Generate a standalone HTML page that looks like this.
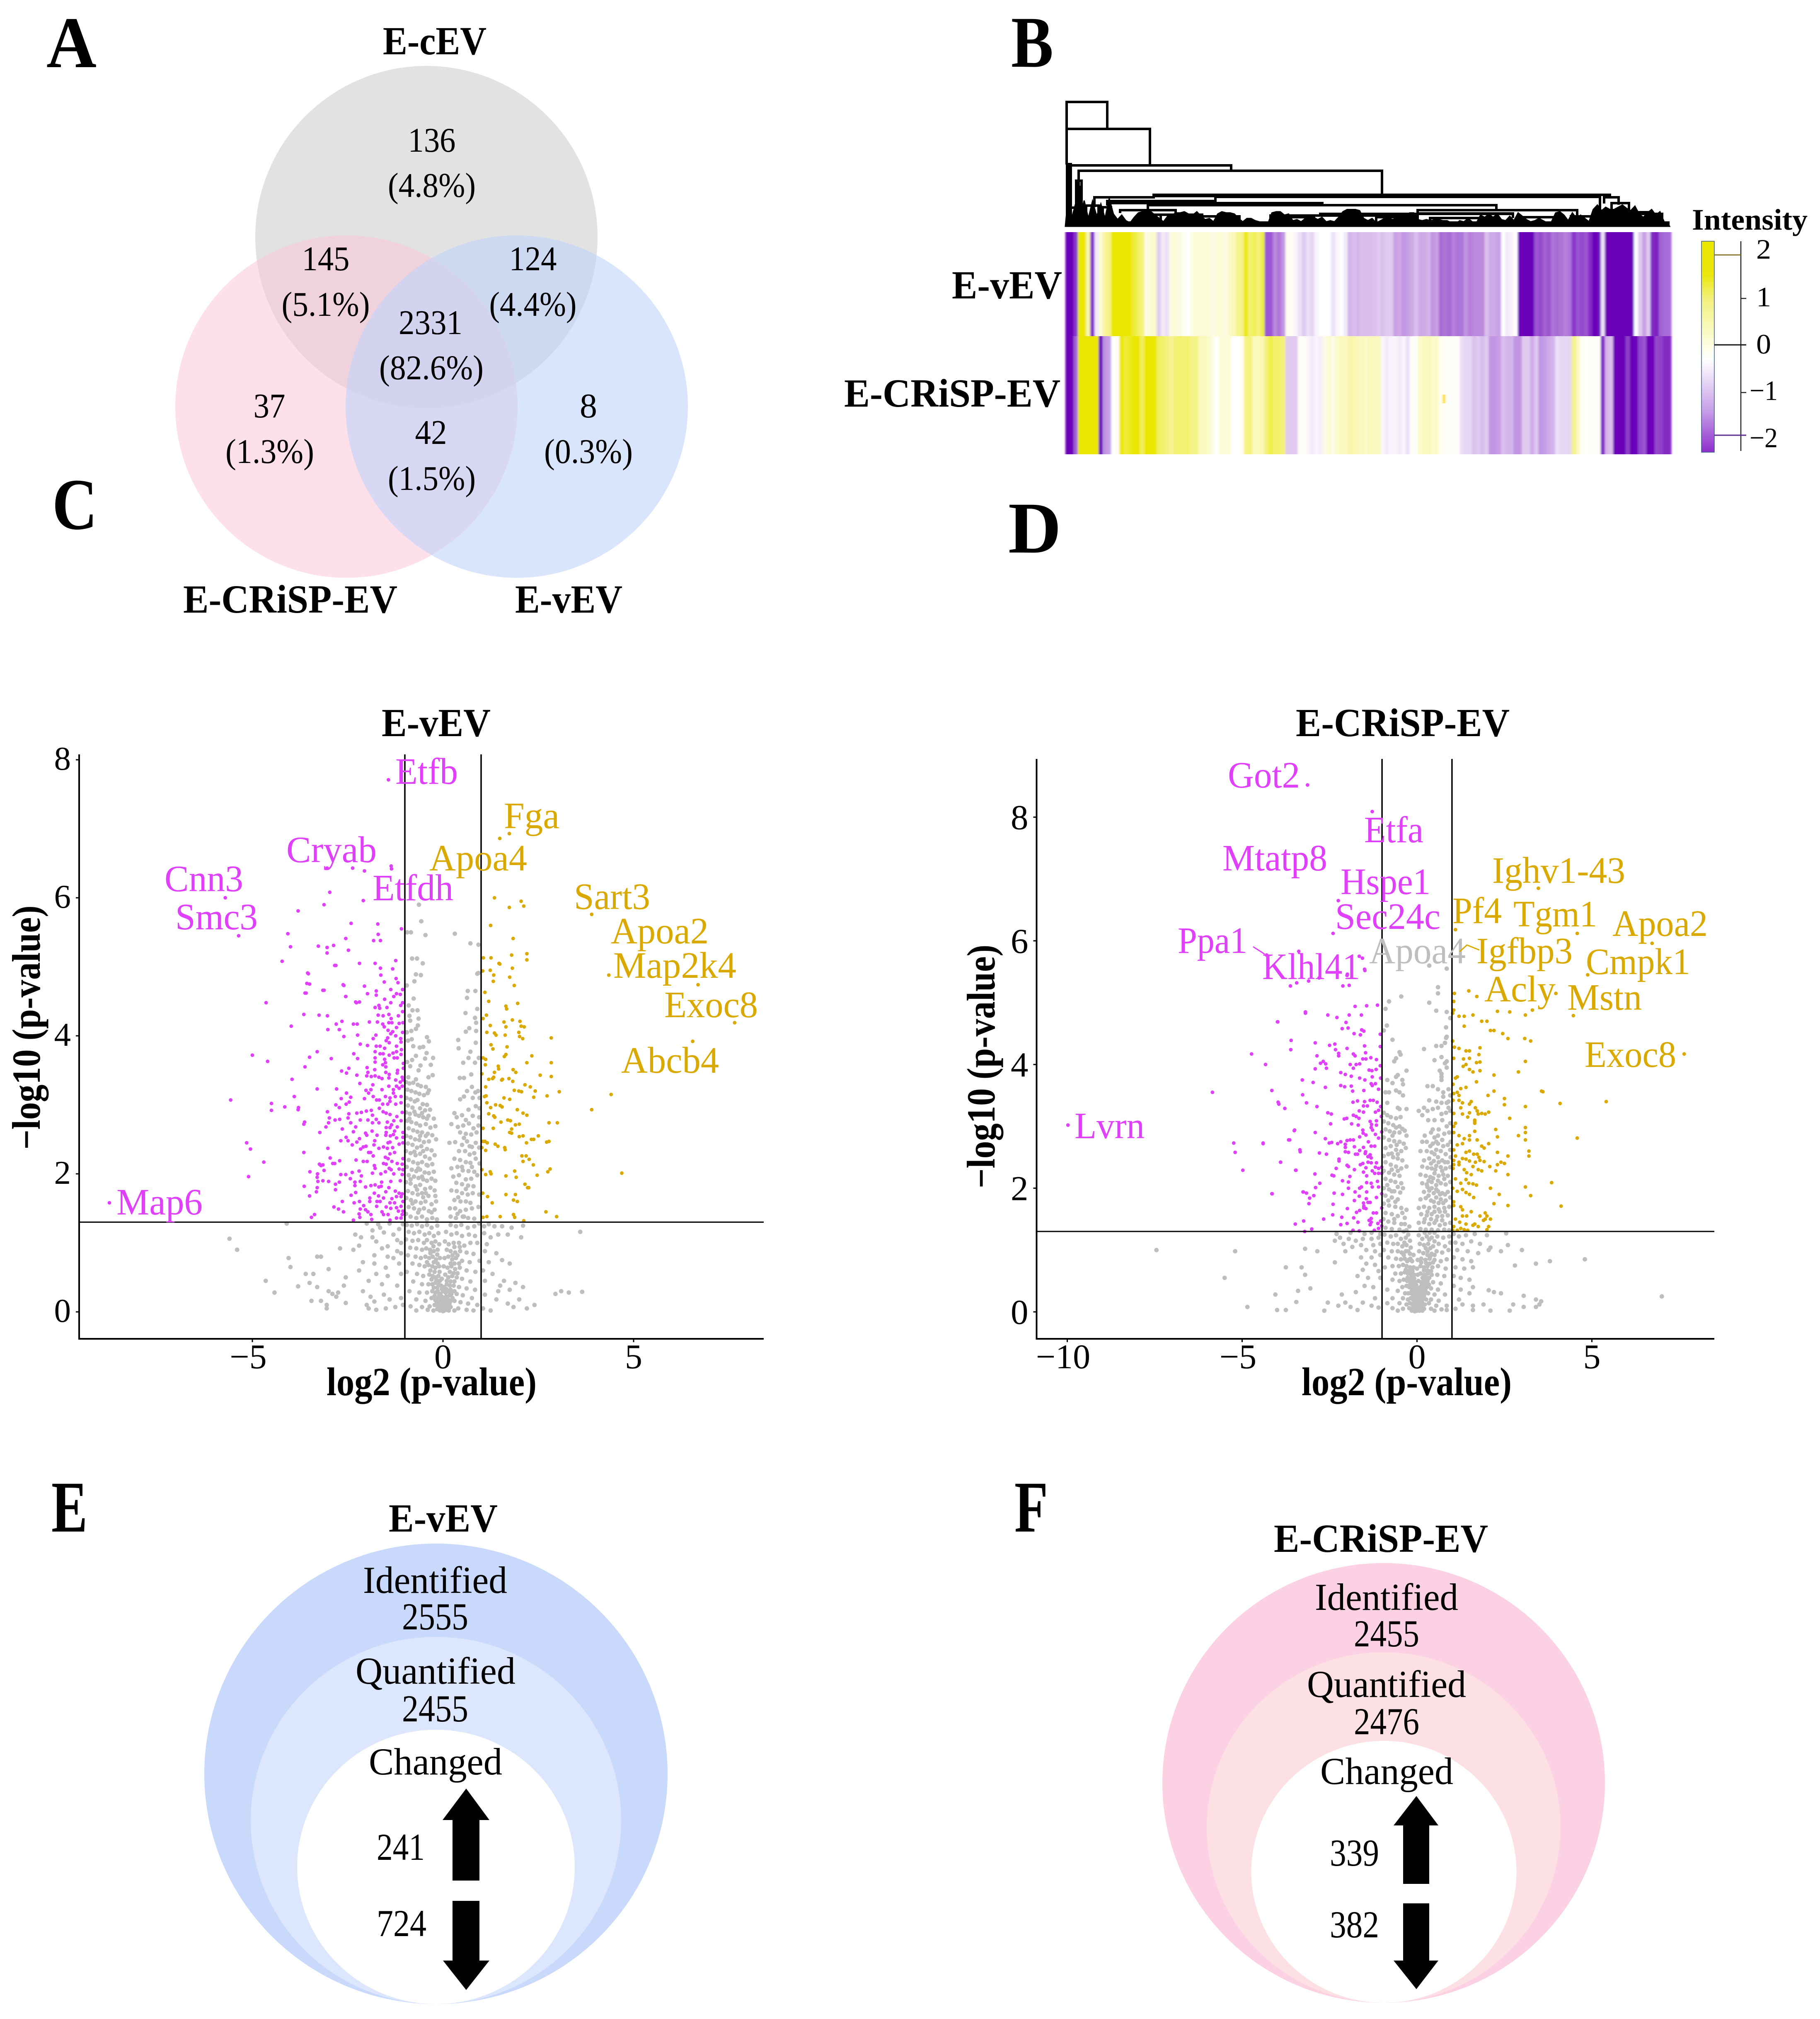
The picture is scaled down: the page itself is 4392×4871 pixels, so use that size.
<!DOCTYPE html>
<html lang="en">
<head>
<meta charset="utf-8">
<title>E-vEV and E-CRiSP-EV proteomics figure</title>
<style>
html,body{margin:0;padding:0;background:#fff;}
svg{display:block;font-family:"Liberation Serif",serif;}
.b{font-weight:bold;}
</style>
</head>
<body>
<svg id="fig" xmlns="http://www.w3.org/2000/svg" width="4392" height="4871" viewBox="0 0 4392 4871">
<defs>
<linearGradient id="cbar" x1="0" y1="0" x2="0" y2="1">
<stop offset="0" stop-color="#ebe600"/><stop offset=".16" stop-color="#ebe60c"/><stop offset=".27" stop-color="#f2f07a"/><stop offset=".49" stop-color="#fdfde0"/><stop offset=".56" stop-color="#ffffff"/><stop offset=".8" stop-color="#c8a0e8"/><stop offset="1" stop-color="#8e2fcc"/>
</linearGradient>
<filter id="soft" x="-2%" y="-2%" width="104%" height="104%"><feGaussianBlur stdDeviation="2.5 0"/></filter>
</defs>
<rect width="4392" height="4871" fill="#fff"/>

<!-- panel letters -->
<g class="b" font-size="176" fill="#000">
<text x="112" y="162" textLength="121" lengthAdjust="spacingAndGlyphs">A</text>
<text x="2440" y="161" textLength="102" lengthAdjust="spacingAndGlyphs">B</text>
<text x="126" y="1276" textLength="109" lengthAdjust="spacingAndGlyphs">C</text>
<text x="2433" y="1333" textLength="128" lengthAdjust="spacingAndGlyphs">D</text>
<text x="124" y="3695" textLength="87" lengthAdjust="spacingAndGlyphs">E</text>
<text x="2448" y="3695" textLength="81" lengthAdjust="spacingAndGlyphs">F</text>
</g>

<!-- Venn -->
<g>
<circle cx="1029" cy="572" r="413" fill="#e2e2e2"/>
<circle cx="836" cy="981" r="413" fill="#fbc1d5" fill-opacity=".5"/>
<circle cx="1247" cy="981" r="413" fill="#c0d2fc" fill-opacity=".6"/>
<g class="b" font-size="96">
<text x="924" y="131" textLength="250" lengthAdjust="spacingAndGlyphs">E-cEV</text>
<text x="442" y="1478" textLength="517" lengthAdjust="spacingAndGlyphs">E-CRiSP-EV</text>
<text x="1243" y="1478" textLength="259" lengthAdjust="spacingAndGlyphs">E-vEV</text>
</g>
<g font-size="84" text-anchor="middle">
<text x="1042" y="366" textLength="115" lengthAdjust="spacingAndGlyphs">136</text>
<text x="1042" y="475" textLength="212" lengthAdjust="spacingAndGlyphs">(4.8%)</text>
<text x="786" y="652" textLength="115" lengthAdjust="spacingAndGlyphs">145</text>
<text x="786" y="762" textLength="213" lengthAdjust="spacingAndGlyphs">(5.1%)</text>
<text x="1286" y="652" textLength="115" lengthAdjust="spacingAndGlyphs">124</text>
<text x="1286" y="762" textLength="211" lengthAdjust="spacingAndGlyphs">(4.4%)</text>
<text x="1039" y="806" textLength="154" lengthAdjust="spacingAndGlyphs">2331</text>
<text x="1041" y="915" textLength="252" lengthAdjust="spacingAndGlyphs">(82.6%)</text>
<text x="650" y="1007" textLength="77" lengthAdjust="spacingAndGlyphs">37</text>
<text x="651" y="1117" textLength="214" lengthAdjust="spacingAndGlyphs">(1.3%)</text>
<text x="1040" y="1071" textLength="77" lengthAdjust="spacingAndGlyphs">42</text>
<text x="1042" y="1182" textLength="212" lengthAdjust="spacingAndGlyphs">(1.5%)</text>
<text x="1420" y="1007">8</text>
<text x="1420" y="1117" textLength="214" lengthAdjust="spacingAndGlyphs">(0.3%)</text>
</g>
</g>

<!-- Heatmap -->
<g id="dendro"></g>
<g id="heat" filter="url(#soft)"></g>
<g class="b" font-size="96">
<text x="2297" y="720" textLength="266" lengthAdjust="spacingAndGlyphs">E-vEV</text>
<text x="2037" y="981" textLength="522" lengthAdjust="spacingAndGlyphs">E-CRiSP-EV</text>
</g>
<g>
<text class="b" x="4083" y="554" font-size="72" textLength="279" lengthAdjust="spacingAndGlyphs">Intensity</text>
<rect x="4106" y="582" width="31" height="509" fill="url(#cbar)" stroke="#3a5a8a" stroke-width="1.5"/>
<line x1="4201" y1="582" x2="4201" y2="1088" stroke="#222" stroke-width="2.5"/>
<line x1="4137" y1="615" x2="4201" y2="615" stroke="#8a7a30" stroke-width="3"/>
<line x1="4201" y1="720" x2="4214" y2="720" stroke="#222" stroke-width="2.5"/>
<line x1="4137" y1="832" x2="4214" y2="832" stroke="#111" stroke-width="3"/>
<line x1="4201" y1="947" x2="4214" y2="947" stroke="#222" stroke-width="2.5"/>
<line x1="4137" y1="1050" x2="4214" y2="1050" stroke="#5a2a90" stroke-width="3"/>
<g font-size="68">
<text x="4238" y="624" textLength="36" lengthAdjust="spacingAndGlyphs">2</text>
<text x="4238" y="739" textLength="36" lengthAdjust="spacingAndGlyphs">1</text>
<text x="4238" y="853" textLength="36" lengthAdjust="spacingAndGlyphs">0</text>
<text x="4222" y="965" textLength="68" lengthAdjust="spacingAndGlyphs">−1</text>
<text x="4222" y="1079" textLength="68" lengthAdjust="spacingAndGlyphs">−2</text>
</g>
</g>

<!-- Volcano plots -->
<g id="volcC"></g>
<g id="volcD"></g>

<g class="b" font-size="96">
<text x="921" y="1776" textLength="263" lengthAdjust="spacingAndGlyphs">E-vEV</text>
<text x="3127" y="1776" textLength="516" lengthAdjust="spacingAndGlyphs">E-CRiSP-EV</text>
<text x="788" y="3366" textLength="507" lengthAdjust="spacingAndGlyphs">log2 (p-value)</text>
<text x="3141" y="3366" textLength="507" lengthAdjust="spacingAndGlyphs">log2 (p-value)</text>
<text transform="rotate(-90 96 2479)" x="96" y="2479" text-anchor="middle" textLength="589" lengthAdjust="spacingAndGlyphs">−log10 (p-value)</text>
<text transform="rotate(-90 2400 2573)" x="2400" y="2573" text-anchor="middle" textLength="588" lengthAdjust="spacingAndGlyphs">−log10 (p-value)</text>
</g>

<!-- gene labels C -->
<g font-size="90" fill="#e040fb">
<text x="954" y="1891" textLength="151" lengthAdjust="spacingAndGlyphs">Etfb</text>
<text x="691" y="2080" textLength="218" lengthAdjust="spacingAndGlyphs">Cryab</text>
<text x="397" y="2150" textLength="190" lengthAdjust="spacingAndGlyphs">Cnn3</text>
<text x="899" y="2172" textLength="195" lengthAdjust="spacingAndGlyphs">Etfdh</text>
<text x="423" y="2242" textLength="199" lengthAdjust="spacingAndGlyphs">Smc3</text>
<text x="281" y="2930" textLength="208" lengthAdjust="spacingAndGlyphs">Map6</text>
</g>
<g font-size="90" fill="#daa900">
<text x="1216" y="1998" textLength="134" lengthAdjust="spacingAndGlyphs">Fga</text>
<text x="1036" y="2100" textLength="236" lengthAdjust="spacingAndGlyphs">Apoa4</text>
<text x="1385" y="2193" textLength="184" lengthAdjust="spacingAndGlyphs">Sart3</text>
<text x="1474" y="2276" textLength="236" lengthAdjust="spacingAndGlyphs">Apoa2</text>
<text x="1480" y="2359" textLength="297" lengthAdjust="spacingAndGlyphs">Map2k4</text>
<text x="1603" y="2454" textLength="226" lengthAdjust="spacingAndGlyphs">Exoc8</text>
<text x="1499" y="2588" textLength="236" lengthAdjust="spacingAndGlyphs">Abcb4</text>
</g>
<!-- gene labels D -->
<g font-size="90" fill="#e040fb">
<text x="2963" y="1900" textLength="174" lengthAdjust="spacingAndGlyphs">Got2</text>
<text x="3292" y="2032" textLength="143" lengthAdjust="spacingAndGlyphs">Etfa</text>
<text x="2950" y="2100" textLength="253" lengthAdjust="spacingAndGlyphs">Mtatp8</text>
<text x="3235" y="2157" textLength="217" lengthAdjust="spacingAndGlyphs">Hspe1</text>
<text x="3222" y="2241" textLength="254" lengthAdjust="spacingAndGlyphs">Sec24c</text>
<text x="2842" y="2299" textLength="168" lengthAdjust="spacingAndGlyphs">Ppa1</text>
<text x="3046" y="2362" textLength="236" lengthAdjust="spacingAndGlyphs">Klhl41</text>
<text x="2593" y="2746" textLength="169" lengthAdjust="spacingAndGlyphs">Lvrn</text>
</g>
<line x1="3024" y1="2284" x2="3052" y2="2302" stroke="#e040fb" stroke-width="3"/>
<text x="3304" y="2324" font-size="90" fill="#bebebe" textLength="233" lengthAdjust="spacingAndGlyphs">Apoa4</text>
<polyline points="3570,2292 3540,2280 3522,2296" fill="none" stroke="#daa900" stroke-width="3"/>
<g font-size="90" fill="#daa900">
<text x="3601" y="2130" textLength="321" lengthAdjust="spacingAndGlyphs">Ighv1-43</text>
<text x="3505" y="2227" textLength="119" lengthAdjust="spacingAndGlyphs">Pf4</text>
<text x="3652" y="2235" textLength="202" lengthAdjust="spacingAndGlyphs">Tgm1</text>
<text x="3891" y="2258" textLength="230" lengthAdjust="spacingAndGlyphs">Apoa2</text>
<text x="3563" y="2324" textLength="232" lengthAdjust="spacingAndGlyphs">Igfbp3</text>
<text x="3827" y="2350" textLength="252" lengthAdjust="spacingAndGlyphs">Cmpk1</text>
<text x="3582" y="2416" textLength="172" lengthAdjust="spacingAndGlyphs">Acly</text>
<text x="3782" y="2436" textLength="180" lengthAdjust="spacingAndGlyphs">Mstn</text>
<text x="3824" y="2574" textLength="221" lengthAdjust="spacingAndGlyphs">Exoc8</text>
</g>

<!-- Panel E -->
<g>
<text class="b" x="938" y="3695" font-size="96" textLength="263" lengthAdjust="spacingAndGlyphs">E-vEV</text>
<ellipse cx="1052" cy="4279.5" rx="559" ry="555.5" fill="#c8d9fc"/>
<ellipse cx="1052" cy="4392" rx="447" ry="443" fill="#dce6fd"/>
<ellipse cx="1052" cy="4504" rx="335" ry="331" fill="#fff"/>
<g font-size="92">
<text x="876" y="3843" textLength="348" lengthAdjust="spacingAndGlyphs">Identified</text>
<text x="970" y="3931" textLength="160" lengthAdjust="spacingAndGlyphs">2555</text>
<text x="858" y="4062" textLength="386" lengthAdjust="spacingAndGlyphs">Quantified</text>
<text x="970" y="4153" textLength="160" lengthAdjust="spacingAndGlyphs">2455</text>
<text x="890" y="4281" textLength="322" lengthAdjust="spacingAndGlyphs">Changed</text>
<text x="909" y="4487" textLength="116" lengthAdjust="spacingAndGlyphs">241</text>
<text x="909" y="4671" textLength="120" lengthAdjust="spacingAndGlyphs">724</text>
</g>
<polygon points="1125,4315 1181,4391 1157,4391 1157,4537 1092,4537 1092,4391 1068,4391" fill="#000"/>
<polygon points="1092,4586 1157,4586 1157,4730 1181,4730 1125,4801 1069,4730 1092,4730" fill="#000"/>
</g>

<!-- Panel F -->
<g>
<text class="b" x="3074" y="3744" font-size="96" textLength="517" lengthAdjust="spacingAndGlyphs">E-CRiSP-EV</text>
<ellipse cx="3339" cy="4301.5" rx="534" ry="530.5" fill="#fcd1e3"/>
<ellipse cx="3339" cy="4409" rx="427" ry="423" fill="#fde0e4"/>
<ellipse cx="3339.5" cy="4516" rx="320" ry="316" fill="#fff"/>
<g font-size="92">
<text x="3173" y="3884" textLength="346" lengthAdjust="spacingAndGlyphs">Identified</text>
<text x="3267" y="3972" textLength="158" lengthAdjust="spacingAndGlyphs">2455</text>
<text x="3154" y="4094" textLength="384" lengthAdjust="spacingAndGlyphs">Quantified</text>
<text x="3267" y="4184" textLength="158" lengthAdjust="spacingAndGlyphs">2476</text>
<text x="3186" y="4304" textLength="321" lengthAdjust="spacingAndGlyphs">Changed</text>
<text x="3209" y="4501" textLength="119" lengthAdjust="spacingAndGlyphs">339</text>
<text x="3209" y="4674" textLength="119" lengthAdjust="spacingAndGlyphs">382</text>
</g>
<polygon points="3418,4333 3471,4404 3449,4404 3449,4545 3386,4545 3386,4404 3363,4404" fill="#000"/>
<polygon points="3386,4592 3449,4592 3449,4730 3471,4730 3418,4799 3363,4730 3386,4730" fill="#000"/>
</g>
</svg>

<script>
// ---------- heatmap data ----------
const heatVev=[-2.4,-2.4,-1.9,2,2,.6,-2,-.2,.3,.7,.9,2,2,2,2,2,1.5,1.2,1,.2,.3,.4,-.5,-.2,-.3,.2,.3,.2,.1,0,.2,.3,.3,.3,.3,.2,.3,.3,.2,.4,.5,.8,.9,1.8,1.1,1.2,1,1.4,-1.6,-1.6,-1.1,-1.3,-1,.1,.1,-.1,-.3,-.5,-.3,-.4,-.1,0,0,0,-.3,-.1,0,-.2,-.7,-.6,-.7,-.6,-.6,
-.6,-.6,-.5,-.6,-.5,-.5,-.9,-.8,-1,-.9,-.8,-.6,-.8,-.8,-.7,-1,-.9,-1.4,-1.3,-1.4,-1.2,-1.3,-1.3,-1,-1.2,-1.1,-1.1,-1.1,-.6,-.8,-.8,-.9,0,-.2,-.1,0,-2.4,-2.4,-2.4,-2.4,-1.6,-1.7,-1.5,-1.6,-1.3,-1.4,-1.3,-1.2,-1.3,-1.9,-1.6,-1.7,-1.6,-2,-2.4,-2.3,-.3,-2.4,-2.4,-2.4,-2.4,-2.4,-2.4,-2.4,0,-.5,-.9,-.5,-2,-2.1,-1.5,-1.4,-1.4];
const heatCrisp=[-2.4,-2.4,-1.5,2,2,2,2,1.9,-2.4,-1,-.9,0,.05,1.8,1.5,1.7,1.9,1.9,1.2,2,2,2,1.2,1.1,1,.8,1,1.1,1,1.1,.9,.9,.5,.5,.4,.2,0,.3,.3,.3,0,0,.1,.9,1,.5,.5,.6,1,1.4,1.1,1.1,1,-.5,-.5,-.5,.05,.05,-.1,-.2,-.1,-.15,.2,.3,.2,.4,.5,.5,.6,.6,.5,.5,.4,
.5,.5,.5,-.1,-.2,-.1,-.1,-.2,-.1,-.3,.05,.05,.4,.5,.5,.4,.4,.1,.05,.05,.05,.05,-.3,-.4,-.4,-.6,-.5,-.6,-.5,-1,-1,-.9,-.6,-.7,-.7,-1,-1,-.5,-.5,-.8,-.5,-1,-.9,-.8,-.7,-.3,-.4,-.4,-.4,.9,.5,.05,0,.05,.05,.05,-2,-.7,-.6,-2.4,-2.4,-2.4,-1.8,-2.4,-2.4,-1.7,-1.6,-2.4,-2.4,-1.7,-1.8,-2,-2];
// ---------- dendrogram data: [leftLeaf, rightLeaf, height, leftChildHeight, rightChildHeight] ----------
const dendroMerges=[[.3,10.1,300,236,236],[.3,20.4,235,149,149],[.8,40,147,0,134],[3.2,76.4,134,0,76],[21.3,131.4,76,71,70],[21.3,36.2,73,71,71],[7,21.3,70,46,76],[36.2,129,71,61,10],[10.1,36.2,61,50,71],[10.1,36.2,58,50,58],[10.1,62,56,50,51],[19.9,104,51,39,39],[13.2,26.6,39,32,30],[85,123.5,39,30,26],[85,108,31,28,26],[61.5,108,30,26,20],[61.5,85,28,26,26],[61.5,76,26,24,24],[49.5,85,26,12,14],[75,85,22,10,8],[19,33,28,14,14],[33,42,24,10,8],[130,133.5,70,55,52],[131.8,136,56,34,36],[131,141,34,20,24],[122,127,24,10,12],[136,144,30,16,8],[1,3,45,0,0],[5,8,50,0,0],[9,11,46,0,0],[23,30,28,12,16],[52,60,22,10,12],[88,100,20,8,10],[110,118,22,8,10],[.4,1.3,150,0,0],[2.6,3.9,110,0,0],[2.8,3.6,95,0,0],[.5,1.1,110,0,0]];
const dendroMass=[40,14,42,16,46,14,45,18,40,14,50,22,12,20,10,6,16,24,26,28,26,20,14,8,18,20,24,24,26,22,20,26,18,12,14,8,22,26,24,24,22,14,8,14,14,10,8,6,4,24,26,26,20,22,10,12,8,14,20,16,12,16,8,10,8,16,26,30,30,30,28,14,10,14,6,10,14,14,12,16,18,20,24,24,12,10,12,10,12,12,10,10,6,4,10,8,14,8,6,20,16,22,16,22,12,10,18,10,24,18,12,8,10,14,10,6,8,24,26,20,10,24,14,20,14,8,30,38,28,34,30,30,34,38,32,28,36,22,16,24,30,20,26,8,4];
// ---------- volcano data E-vEV ----------
const vevXTicks=[-5,0,5];
const vevYTicks=[0,2,4,6,8];
const vevThresholds=[-1,1,1.3];
const vevDown=[[-1.43,7.71],[-2.37,6.43],[-2.06,6.39],[-1.36,6.46],[-1.35,6.42],[-3.04,6.43],[-2.97,6.08],[-5.71,6],[-3.12,5.9],[-2.09,5.96],[-3.8,5.81],[-2.41,5.63],[-1.71,5.62],[-5.36,5.45],[-4.07,5.48],[-1.7,5.47],[-1.09,5.55],[-4,5.29],[-3.27,5.3],[-3.04,5.28],[-2.87,5.31],[-2.55,5.41],[-2.48,5.24],[-1.82,5.38],[-1.64,5.38],[-4.22,5.08],[-3.04,5.2],[-2.84,5.02],[-3.55,4.91],[-3.57,4.76],[-3.15,4.66],[-3.62,4.62],[-2.62,4.74],[-2.55,4.57],[-2.27,4.48],[-4.64,4.48],[-3.53,4.9],[-3.5,4.75],[-3.59,4.62],[-3.12,4.66],[-2.81,5.02],[-2.6,4.73],[-2.55,4.57],[-2.19,5.05],[-1.78,5.05],[-1.64,4.98],[-1.24,5.09],[-1.32,4.97],[-1.63,4.88],[-1.23,4.83],[-1.54,4.78],[-1.18,4.77],[-2.06,4.72],[-1.98,4.61],[-1.75,4.65],[-1.75,4.59],[-1.37,4.67],[-1.06,4.67],[-1.22,4.61],[-1.29,4.57],[-1.12,4.6],[-2.29,4.49],[-2.19,4.49],[-1.53,4.53],[-1.37,4.48],[-1.06,4.48],[-1.11,4.44],[-1.68,4.44],[-1.78,4.41],[-1.66,4.4],[-1.47,4.41],[-1.06,4.35],[-3.65,4.31],[-3.25,4.3],[-3.03,4.29],[-1.7,4.3],[-1.57,4.29],[-1.42,4.31],[-1.17,4.29],[-1.36,4.25],[-2.65,4.21],[-2.8,4.17],[-2.35,4.17],[-2.25,4.17],[-1.93,4.2],[-1.72,4.2],[-1.58,4.17],[-1.42,4.19],[-1.34,4.19],[-1.15,4.18],[-1.05,4.19],[-1.54,4.13],[-1.22,4.12],[-3.98,4.14],[-3.02,4.09],[-2.72,4.09],[-1.44,4.08],[-1.32,4.06],[-1.06,4.05],[-1.37,4.03],[-2.6,3.99],[-2.24,4.01],[-1.76,4.01],[-1.83,3.96],[-1.24,4],[-1.45,3.97],[-1.11,3.96],[-1.49,3.93],[-1.41,3.9],[-1.1,3.91],[-2.17,3.88],[-1.98,3.86],[-1.75,3.85],[-1.65,3.85],[-1.53,3.82],[-1.22,3.85],[-1.09,3.8],[-3.3,3.77],[-2.34,3.74],[-1.78,3.77],[-1.65,3.74],[-1.57,3.74],[-1.41,3.72],[-1.31,3.75],[-1.22,3.77],[-1.1,3.73],[-3.5,3.69],[-2.93,3.67],[-2.24,3.67],[-1.78,3.68],[-1.53,3.66],[-1.28,3.68],[-1.2,3.68],[-1.78,3.62],[-1.51,3.61],[-1.04,3.6],[-3.62,3.55],[-1.99,3.54],[-1.79,3.51],[-1.5,3.55],[-1.58,3.58],[-1.04,3.53],[-2.66,3.49],[-2.47,3.53],[-2.53,3.46],[-2.26,3.43],[-1.97,3.47],[-1.5,3.47],[-1.41,3.44],[-1.19,3.5],[-1.2,3.46],[-2,3.42],[-1.88,3.41],[-1.78,3.42],[-1.68,3.4],[-1.6,3.38],[-1.42,3.39],[-1.07,3.4],[-3.96,3.37],[-1.24,3.36],[-1.12,3.33],[-1.05,3.36],[-2.18,3.31],[-1.84,3.29],[-1.42,3.27],[-1.22,3.27],[-1.07,3.27],[-3.3,3.23],[-2.79,3.23],[-2.02,3.21],[-1.89,3.22],[-1.6,3.22],[-1.3,3.22],[-1.15,3.24],[-1.95,3.17],[-1.3,3.17],[-2.53,3.17],[-3.9,3.12],[-2.42,3.11],[-1.83,3.12],[-1.51,3.12],[-1.39,3.1],[-1.25,3.12],[-1.1,3.12],[-2.67,3.09],[-2.06,3.09],[-1.74,3.07],[-1.67,3.07],[-2.46,3.04],[-1.39,3.05],[-1.24,3.01],[-1.1,3.03],[-2.54,3.01],[-2.81,3],[-1.58,3.01],[-1.45,3.01],[-3.79,2.96],[-2.72,2.96],[-1.67,2.95],[-2.01,2.91],[-1.88,2.92],[-1.57,2.9],[-3.03,2.9],[-2.47,2.87],[-2.26,2.88],[-2.14,2.89],[-1.85,2.85],[-1.49,2.88],[-1.39,2.86],[-1.07,2.89],[-2.98,2.81],[-1.21,2.83],[-2.49,2.81],[-2.83,2.78],[-2.71,2.79],[-2.17,2.78],[-1.97,2.78],[-1.75,2.79],[-1.29,2.77],[-1.1,2.77],[-3.63,2.75],[-3,2.74],[-2.42,2.74],[-1.85,2.74],[-1.68,2.74],[-1.46,2.75],[-1.35,2.71],[-3.07,2.68],[-2.29,2.68],[-2.64,2.65],[-1.49,2.67],[-1.39,2.67],[-1.2,2.68],[-1.05,2.6],[-3.23,2.6],[-2.35,2.61],[-1.86,2.62],[-2.03,2.59],[-1.49,2.6],[-1.27,2.62],[-2,2.56],[-1.73,2.56],[-1.5,2.56],[-1.38,2.55],[-1.3,2.57],[-2.54,2.53],[-1.05,2.53],[-2.19,2.51],[-2.68,2.48],[-2.49,2.48],[-2.26,2.46],[-1.79,2.48],[-1.22,2.52],[-1.44,2.45],[-1.39,2.46],[-1.15,2.43],[-2.38,2.42],[-1.05,2.45],[-2.02,2.4],[-2.09,2.39],[-2.16,2.36],[-1.81,2.42],[-1.68,2.37],[-1.56,2.39],[-1.46,2.37],[-1.32,2.38],[-3.02,2.37],[-1.95,2.31],[-1.9,2.31],[-1.39,2.29],[-1.27,2.31],[-2.96,2.23],[-1.83,2.26],[-1.51,2.24],[-1.44,2.22],[-1.34,2.18],[-1.05,2.22],[-2.71,2.19],[-2.89,2.15],[-2.84,2.15],[-3.24,2.14],[-3.15,2.13],[-2.28,2.2],[-2.09,2.18],[-1.99,2.18],[-1.56,2.15],[-1.49,2.14],[-1.2,2.15],[-1.07,2.14],[-1.8,2.12],[-3.12,2.05],[-3.49,2.03],[-3.29,2],[-2.2,2.04],[-1.78,2.08],[-1.85,2.01],[-1.41,2.08],[-1.36,2.06],[-1.15,2.07],[-1.05,2.06],[-2.68,1.99],[-2.55,1.99],[-2.38,2.02],[-2.14,1.97],[-1.63,2],[-1.51,2.03],[-1.29,2],[-2.43,1.93],[-1.07,1.99],[-3.28,1.89],[-3.15,1.9],[-3,1.89],[-2.72,1.88],[-2.31,1.88],[-2.17,1.89],[-1.89,1.83],[-1.78,1.84],[-1.61,1.88],[-1.37,1.89],[-1.12,1.9],[-2.82,1.85],[-2.31,1.83],[-2.03,1.81],[-1.68,1.81],[-1.62,1.82],[-3.64,1.82],[-2.82,1.77],[-1.42,1.8],[-3.32,1.74],[-2.29,1.73],[-1.8,1.72],[-1.5,1.74],[-1.25,1.75],[-1.15,1.72],[-1.07,1.71],[-2.41,1.69],[-1.92,1.65],[-1.69,1.68],[-1.56,1.65],[-1.34,1.64],[-1.22,1.67],[-1.1,1.67],[-2.64,1.6],[-2.33,1.58],[-2.19,1.6],[-1.92,1.6],[-1.73,1.6],[-1.65,1.6],[-1.39,1.58],[-1.27,1.58],[-1.05,1.6],[-2.86,1.52],[-2.08,1.54],[-1.74,1.53],[-1.49,1.52],[-1.37,1.5],[-1.22,1.51],[-1.1,1.53],[-2.74,1.49],[-2.61,1.45],[-2.17,1.49],[-2.03,1.48],[-1.6,1.45],[-1.17,1.46],[-1.05,1.46],[-1.97,1.45],[-3.37,1.41],[-2.2,1.42],[-1.89,1.41],[-1.44,1.41],[-1.07,1.41],[-3.45,1.37],[-2.18,1.37],[-1.87,1.34],[-2.35,1.33],[-1.56,1.41],[-1.22,1.36],[-1.1,1.36],[-1.39,1.33],[-8.75,1.58],[-5.57,3.07],[-5.15,2.45],[-5.05,2.36],[-4.7,2.17],[-5.1,1.96],[-5,3.72],[-4.6,3.63],[-4.5,3.02],[-4.5,2.92],[-4.15,2.97],[-3.8,2.93],[-3.65,2.72],[-3.65,2.31],[-3.2,2.12],[-3.3,1.95],[-3.3,1.8],[-3.5,1.68]];
const vevUp=[[1.49,6.86],[1.74,6.93],[3.9,5.76],[1.35,6],[2.05,5.95],[1.74,5.86],[2.12,5.88],[1.25,5.6],[1.84,5.41],[4.35,4.88],[6.69,4.74],[7.65,4.19],[6.55,3.92],[4.41,3.15],[3.9,2.93],[4.69,2.01],[2.84,3.97],[2.84,3.61],[3.05,3.19],[3,2.74],[2.81,2.07],[2.98,1.38],[1.06,5.13],[1.26,5.13],[1.47,5.05],[1.49,5.04],[1.8,5.17],[2.2,5.19],[1.82,4.98],[2.2,5.1],[1.04,4.94],[1.24,4.95],[1.33,4.88],[1.32,4.79],[1.75,4.85],[1.87,4.73],[1.1,4.63],[1.2,4.5],[1.96,4.47],[1.65,4.43],[1.67,4.39],[1.82,4.23],[1.05,4.25],[1.14,4.3],[1.24,4.15],[1.6,4.2],[1.65,4.13],[2.02,4.21],[2.05,4.14],[2.13,4.13],[1.15,4.05],[1.35,4.04],[1.39,4.01],[1.63,4.01],[1.99,4.05],[2.01,3.99],[2.09,3.96],[1.26,3.87],[1.31,3.81],[1.68,3.84],[1.65,3.73],[1.61,3.7],[2.33,3.71],[1.05,3.68],[1.12,3.66],[2.2,3.61],[1.11,3.58],[1.45,3.56],[1.46,3.52],[1.35,3.47],[1.84,3.51],[1.91,3.47],[2.55,3.43],[2.84,3.41],[1.02,3.45],[1.33,3.4],[1.3,3.38],[1.2,3.37],[1.54,3.36],[1.56,3.37],[1.73,3.38],[1.83,3.34],[2.15,3.29],[2.29,3.26],[1.12,3.26],[1.87,3.21],[1.99,3.2],[2.06,3.19],[2.42,3.2],[2.73,3.13],[1.09,3.12],[1.13,3.13],[1.6,3.1],[1.75,3.08],[2.38,3.11],[1.15,3.03],[1.38,3],[1.25,2.96],[1.5,2.99],[1.55,2.97],[1.95,2.93],[2.1,2.88],[2.2,2.85],[1.2,2.87],[1.33,2.84],[1.36,2.82],[1.52,2.75],[1.7,2.78],[1.77,2.77],[1.9,2.71],[2,2.72],[2.78,2.74],[1.05,2.66],[1.32,2.66],[1.8,2.65],[2.5,2.55],[2.78,2.47],[2.38,2.5],[1.75,2.6],[1.8,2.59],[1.05,2.47],[1.1,2.47],[1.16,2.45],[1.37,2.43],[1.44,2.4],[2,2.54],[2.1,2.55],[2.19,2.45],[2.32,2.5],[2.72,2.46],[1.02,2.38],[1.12,2.34],[1.62,2.38],[1.63,2.35],[2.07,2.26],[2.18,2.26],[2.1,2.18],[2.26,2.21],[2.37,2.13],[2.75,2.03],[2.47,1.98],[1.02,2.06],[1.12,1.99],[1.24,2.03],[1.26,2],[1.65,1.97],[1.88,2.04],[1.92,1.95],[2.15,1.85],[2.22,1.8],[1.04,1.72],[1.17,1.67],[1.29,1.58],[1.65,1.7],[1.85,1.62],[2.25,1.8],[1.05,1.37],[1.15,1.38],[1.5,1.38],[1.85,1.41],[1.88,1.37],[2.12,1.32],[2.7,1.45],[1.9,1.7],[1.95,1.6]];
const vevNS=[[-.63,5.9],[-.57,5.66],[-.94,5.5],[-.84,5.5],[-.46,5.46],[.31,5.48],[.72,5.34],[.93,5.32],[-.68,5.12],[-.53,5.05],[.93,4.91],[-.58,4.88],[.65,4.65],[.63,4.55],[-.81,5.12],[-.71,4.89],[-.75,4.79],[.9,4.9],[-.95,4.73],[.85,4.65],[-.77,4.54],[-.9,4.44],[.9,4.39],[-.8,4.37],[-.67,4.37],[.59,4.33],[-.88,4.29],[-.64,4.25],[.84,4.26],[-.86,4.22],[.87,4.19],[-.66,4.15],[-.71,4.1],[.69,4.11],[-.83,4.07],[-.95,4.05],[.87,4.07],[.6,4.06],[-.42,3.98],[-.37,3.92],[.4,3.94],[-.82,3.95],[-.92,3.93],[.86,3.9],[.41,3.82],[-.78,3.85],[-.61,3.83],[-.52,3.84],[-.43,3.75],[.72,3.77],[-.71,3.71],[-.26,3.68],[-.47,3.67],[-.81,3.65],[-.94,3.62],[.67,3.68],[.53,3.61],[.84,3.61],[.94,3.68],[-.32,3.58],[-.59,3.57],[-.86,3.56],[-.64,3.5],[-.27,3.43],[-.38,3.4],[.74,3.44],[.44,3.39],[.55,3.39],[-.91,3.4],[-.71,3.37],
[-.97,3.33],[-.88,3.31],[-.78,3.32],[-.66,3.29],[-.58,3.27],[-.45,3.26],[-.37,3.21],[-.93,3.22],[-.83,3.2],[-.72,3.18],[-.62,3.16],[-.5,3.14],[-.4,3.17],[.76,3.26],[.63,3.2],[.85,3.18],[.92,3.2],[.45,3.08],[.55,3.12],[.78,3.1],[.96,3.1],
[-.96,3.1],[-.85,3.08],[-.74,3.05],[-.67,3.07],[-.53,3.01],[-.42,3],[-.92,2.99],[-.8,2.96],[-.6,2.95],[-.47,2.92],[-.34,2.93],[-.97,2.89],[-.87,2.87],[-.72,2.86],[-.63,2.84],[-.52,2.82],[-.38,2.84],[-.24,2.8],[.3,2.88],[.36,2.82],[.5,2.85],[.67,2.93],[.86,2.98],[.96,2.95],[.78,2.84],[.95,2.82],[.6,2.78],
[-.94,2.77],[-.83,2.75],[-.7,2.73],[-.6,2.7],[-.45,2.72],[-.33,2.67],[-.2,2.69],[-.9,2.66],[-.78,2.63],[-.67,2.61],[-.55,2.6],[-.4,2.58],[-.28,2.56],[.22,2.72],[.39,2.68],[.53,2.7],[.68,2.73],[.8,2.66],[.93,2.7],[.45,2.6],[.6,2.58],[.74,2.57],[.88,2.6],
[-.96,2.55],[-.85,2.53],[-.73,2.5],[-.62,2.49],[-.5,2.46],[-.37,2.47],[-.18,2.5],[-.92,2.44],[-.8,2.42],[-.68,2.38],[-.57,2.4],[-.42,2.36],[-.3,2.34],[.17,2.45],[.32,2.46],[.5,2.42],[.63,2.47],[.76,2.39],[.86,2.45],[.95,2.38],[.42,2.33],[.58,2.33],[.7,2.28],
[-.97,2.33],[-.85,2.3],[-.72,2.27],[-.6,2.29],[-.47,2.25],[-.35,2.22],[-.22,2.27],[-.9,2.2],[-.78,2.17],[-.66,2.15],[-.55,2.17],[-.43,2.13],[-.28,2.14],[.3,2.22],[.45,2.2],[.6,2.17],[.72,2.16],[.86,2.22],[.96,2.15],[.22,2.08],[.38,2.1],[.52,2.05],[.67,2.04],[.82,2.03],
[-.95,2.1],[-.82,2.06],[-.7,2.04],[-.6,2.06],[-.48,2.02],[-.37,2.01],[-.24,2.03],[-.9,1.98],[-.76,1.96],[-.64,1.94],[-.52,1.92],[-.42,1.9],[-.2,1.9],[.27,1.96],[.42,1.98],[.6,1.92],[.74,1.93],[.9,1.98],[.35,1.87],[.5,1.85],[.66,1.83],[.8,1.82],
[-.97,1.88],[-.85,1.86],[-.72,1.82],[-.6,1.84],[-.47,1.78],[-.33,1.8],[-.22,1.76],[-.92,1.75],[-.8,1.72],[-.66,1.7],[-.55,1.72],[-.38,1.68],[-.2,1.68],[.22,1.76],[.36,1.75],[.5,1.72],[.65,1.7],[.78,1.72],[.95,1.7],[.3,1.62],[.46,1.6],[.6,1.6],
[-.96,1.65],[-.84,1.62],[-.72,1.6],[-.58,1.58],[-.46,1.6],[-.3,1.56],[-.18,1.6],[-.9,1.52],[-.76,1.5],[-.62,1.48],[-.5,1.5],[-.37,1.46],[-.22,1.48],[.18,1.5],[.32,1.5],[.45,1.46],[.6,1.48],[.76,1.5],[.93,1.52],[.2,1.38],[.34,1.36],[.52,1.38],[.66,1.36],[.82,1.35],[-.97,1.42],[-.85,1.38],[-.7,1.36],[-.55,1.38],[-.42,1.34],[-.28,1.36],[-.16,1.34],
[-.95,1.26],[-.82,1.25],[-.68,1.27],[-.55,1.24],[-.42,1.26],[-.3,1.22],[-.15,1.25],[.2,1.26],[.34,1.24],[.48,1.26],[.65,1.22],[.82,1.24],[.95,1.28],[-.9,1.16],[-.76,1.14],[-.62,1.16],[-.48,1.12],[-.36,1.14],[-.24,1.1],[-.12,1.14],[.08,1.16],[.22,1.12],[.36,1.14],[.5,1.1],[.68,1.12],[.84,1.1],
[-.97,1.05],[-.8,1.03],[-.65,1.04],[-.5,1],[-.42,1.04],[-.3,1],[-.2,1.02],[-.1,.98],[.05,1.02],[.15,.98],[.28,1],[.42,1],[.56,.96],[.72,1],[.9,1],[-.86,.93],[-.7,.92],[-.55,.9],[-.44,.92],[-.34,.9],[-.24,.88],[-.14,.9],[.1,.9],[.2,.88],[.32,.86],[.45,.88],[.62,.86],[.8,.84],
[-.92,.82],[-.72,.8],[-.58,.78],[-.46,.8],[-.36,.78],[-.27,.8],[-.18,.76],[-.08,.78],[.04,.78],[.14,.8],[.24,.76],[.34,.78],[.5,.74],[.7,.72],[.96,.74],[-.8,.7],[-.62,.68],[-.48,.66],[-.38,.68],[-.28,.66],[-.2,.64],[-.1,.66],[.02,.66],[.12,.64],[.22,.66],[.32,.62],[.44,.64],[.62,.6],[.85,.58],
[-.95,.58],[-.68,.55],[-.52,.52],[-.36,.54],[-.27,.52],[-.2,.5],[-.12,.52],[-.03,.48],[.06,.54],[.14,.5],[.24,.52],[.36,.5],[.5,.48],[.72,.44],[-.78,.44],[-.55,.4],[-.38,.4],[-.28,.4],[-.2,.42],[-.12,.4],[-.05,.38],[.03,.36],[.1,.4],[.18,.38],[.28,.38],[.42,.36],[.62,.34],[.84,.32],
[-.88,.3],[-.62,.28],[-.42,.28],[-.28,.3],[-.2,.28],[-.14,.3],[-.07,.26],[0,.3],[.07,.28],[.14,.3],[.22,.26],[.36,.26],[.52,.24],[.76,.2],[-.7,.18],[-.46,.16],[-.3,.2],[-.2,.17],[-.12,.2],[-.06,.16],[.01,.18],[.06,.2],[.13,.18],[.2,.16],[.3,.16],[.46,.14],[.66,.12],[.9,.1],
[-.85,.08],[-.55,.07],[-.35,.08],[-.22,.1],[-.14,.08],[-.08,.1],[-.03,.07],[.02,.1],[.07,.08],[.12,.06],[.2,.07],[.4,.05],[.62,.03],[.8,.02],[-.7,.02],[-.4,.03],[-.15,.04],[-.08,.02],[-.02,.03],[.03,.02],[.08,.03],[.15,.02],[-.25,.02],[.3,.02],
[-1.05,1.27],[-1.4,1.28],[-1.7,1.27],[-2,1.28],[-1.85,1.18],[-1.65,1.22],[-1.15,1.2],[-1.3,1.12],[-1.55,1.15],[-1.85,1.08],[-2.3,1.12],[-2.15,1.08],[-1.75,1.02],[-1.2,1.04],[-1.1,1],[-1.45,.95],[-1.6,.92],[-2.2,.96],[-1.2,.88],[-1.1,.85],[-1.8,.82],[-2.7,.92],[-2.35,.9],[-1.45,.8],[-1.3,.78],[-3.2,.8],[-1.8,.7],[-1.5,.64],[-1.15,.7],[-2.1,.72],[-3,.62],[-2.2,.6],[-1.75,.55],[-1.45,.52],[-1.1,.55],[-1.95,.45],[-3.4,.55],[-3.5,.42],[-3.3,.36],[-2.6,.38],[-1.6,.4],[-1.2,.38],[-2.1,.3],[-1.9,.22],[-1.55,.25],[-1.8,.15],[-1.4,.18],[-1.1,.2],[-3,.3],[-2.8,.22],[-3.2,.16],[-2.55,.13],[-1.95,.05],[-1.75,.03],[-1.5,.05],[-1.25,.07],[-1.05,.1],[-2,.1],[-3.05,.05],
[1.08,1.24],[1.2,1.27],[1.35,1.24],[1.55,1.24],[1.8,1.22],[2.1,1.25],[1.08,1.14],[1.25,1.08],[1.45,1.12],[1.7,1.12],[2.05,1.08],[3.6,1.16],[1.15,.98],[1.1,.88],[1.4,.85],[1.2,.72],[1.55,.75],[1.75,.7],[1.05,.6],[1.3,.55],[1.1,.45],[1.6,.45],[1.5,.38],[1.9,.42],[1.45,.3],[1.75,.32],[2.1,.36],[1.1,.25],[1.4,.18],[1.7,.12],[2,.18],[2.4,.1],[2.2,.05],[1.05,.05],[1.25,.02],[2.95,.26],[3.1,.3],[3.3,.28],[3.65,.29],[1.85,.07],
[-5.6,1.06],[-4.1,1.28],[-4.05,.78],[-3.3,.8],[-4.65,.45],[-4.42,.28],[-3.8,.37],[-3.45,.16],[-3.05,.1],[-2.9,.26],[-2.75,.28],[-5.4,.9],[-2.55,.5],[-3.6,.55],[-4,.65],
[-.25,.95],[-.33,.85],[-.15,.83],[-.42,.72],[-.24,.72],[-.14,.7],[-.33,.6],[-.22,.58],[-.09,.58],[-.3,.47],[-.17,.46],[-.08,.45],[-.24,.35],[-.15,.35],[-.03,.33],[-.22,.23],[-.1,.24],[-.03,.22],[-.16,.13],[-.1,.14],[-.01,.13],[.05,.14],[.1,.12],[.17,.12],[.08,.22],[.17,.24],[.25,.2],[.09,.33],[.2,.32],[.3,.3],[.1,.45],[.2,.44],[.3,.44],[.18,.58],[.28,.56],[.38,.56],[.2,.7],[.3,.7],[.42,.7],[.25,.82],[.38,.82],[.3,.94],[.44,.94],[-.05,.06],[.05,.04],[-.11,.04],[.11,.03],[0,.01],
[-.75,2.9],[-.55,2.88],[-.42,2.8],[-.88,2.8],[-.6,2.55],[-.45,2.55],[-.75,2.32],[-.52,2.33],[-.65,2.08],[-.4,2.12],[-.85,1.92],[-.55,1.96],[-.3,1.93],[-.68,1.77],[-.45,1.72],[-.8,1.57],[-.52,1.66],[-.65,1.44],[-.3,1.44],[.55,2.52],[.7,2.4],[.82,2.3],[.5,2.1],[.76,2.1],[.6,1.78],[.4,1.66],[.72,1.58],[.55,1.38],[.38,1.42]];
// ---------- volcano data E-CRiSP-EV ----------
const crispXTicks=[-10,-5,0,5];
const crispYTicks=[0,2,4,6,8];
const crispThresholds=[-1,1,1.3];
const crispDown=[[-3.13,8.52],[-1.28,8.09],[-9.98,3.02],[-5.85,3.55],[-5.24,2.73],[-5.2,2.58],[-4.98,2.29],[-4.4,2.73],[-4.14,1.91],[-3.99,4.69],[-3.19,4.83],[-2.25,6.65],[-2.4,6.12],[-3.38,5.83],[-4.3,5.77],[-1.5,5.54],[-1.65,5.75],[-1.99,5.46],[-2.8,5.4],[-3.1,5.35],[-3.9,2.42],[-3.64,2.78],[-3.5,2.94],[-3.35,2.62],[-3.46,2.29],[-3.25,1.94],[-3.62,5.27],[-3.44,5.32],[-2.12,5.27],[-1.94,5.28],[-2,5.44],[-1.56,5.72],[-1.49,5.52],[-1.77,4.94],[-1.44,4.95],[-1.13,4.96],[-3.19,4.85],[-2.55,4.8],[-2.29,4.76],[-1.94,4.8],[-1.59,4.8],[-3.98,4.69],[-2.03,4.68],[-2.14,4.58],[-1.97,4.59],[-1.58,4.56],[-1.52,4.54],[-1.8,4.5],[-1.62,4.48],[-1.05,4.49],[-3.6,4.39],[-2.91,4.35],[-2.5,4.31],[-2.35,4.33],[-1.5,4.3],[-2,4.26],[-1.05,4.29],[-3.61,4.24],[-2.33,4.24],[-2.24,4.18],[-2.24,4.14],[-1.82,4.17],[-1.77,4.14],[-1.47,4.19],[-4.73,4.17],[-2.86,4.14],[-1.55,4.09],[-1.46,4.09],[-1.32,4.11],[-1.16,4.08],[-4.33,4],[-2.68,4.05],[-2.76,4.02],[-2.61,4.01],[-1.91,4],[-1.74,4],[-1.64,4.01],[-1.05,3.98],[-1.82,3.94],[-2.91,3.93],[-2.59,3.94],[-1.37,3.91],[-1.29,3.9],[-1.17,3.92],[-2.18,3.87],[-2.05,3.84],[-1.88,3.81],[-1.28,3.8],[-1.64,3.78],[-1.49,3.75],[-1.04,3.78],[-3.28,3.75],[-2.97,3.71],[-1.31,3.69],[-1.19,3.69],[-1.28,3.66],[-1.1,3.6],[-2.62,3.63],[-2.18,3.66],[-2.07,3.64],[-1.88,3.65],[-1.84,3.57],[-1.52,3.58],[-4.15,3.58],[-3.27,3.51],[-3.16,3.38],[-3.97,3.39],[-3.95,3.36],[-3.78,3.29],[-2.86,3.32],[-1.83,3.39],[-1.7,3.41],[-1.5,3.4],[-1.34,3.42],[-1.25,3.42],[-1.14,3.39],[-1.04,3.32],[-1.53,3.33],[-1.42,3.33],[-1.65,3.25],[-1.53,3.23],[-1.1,3.26],[-1.19,3.23],[-2.55,3.22],[-2.45,3.2],[-1.82,3.18],[-1.74,3.16],[-1.66,3.13],[-1.02,3.16],[-2.08,3.12],[-2.01,3.13],[-1.34,3.08],[-1.16,3.09],[-1.87,3.04],[-1.68,3.02],[-2.47,3.04],[-1.3,3.03],[-1.16,3.02],[-1.31,2.98],[-1.27,2.94],[-3.51,2.93],[-1.55,2.94],[-2.91,2.9],[-1.01,2.91],[-1.54,2.89],[-1.46,2.86],[-1.19,2.87],[-1.1,2.81],[-2.62,2.8],[-3.67,2.78],[-1.64,2.83],[-1.82,2.78],[-1.91,2.78],[-2,2.77],[-2.51,2.73],[-2.44,2.74],[-2.27,2.72],[-2.18,2.75],[-4.4,2.72],[-1.39,2.75],[-2.05,2.71],[-1.79,2.67],[-1.53,2.66],[-1.31,2.68],[-1.21,2.68],[-2.05,2.66],[-1.64,2.61],[-3.34,2.59],[-2.79,2.57],[-2.59,2.55],[-2.05,2.59],[-1.96,2.58],[-1.47,2.59],[-1.34,2.54],[-1.76,2.55],[-1.7,2.55],[-1.48,2.56],[-1.4,2.51],[-2.23,2.47],[-2.23,2.44],[-1.31,2.49],[-3.9,2.42],[-1.16,2.41],[-1.4,2.42],[-1.31,2.41],[-1.55,2.4],[-1.62,2.38],[-2,2.37],[-1.96,2.35],[-2.31,2.32],[-1.46,2.33],[-1.19,2.34],[-1.1,2.32],[-1.01,2.34],[-3.47,2.29],[-1.79,2.3],[-1.53,2.26],[-1.28,2.28],[-1.21,2.24],[-1.1,2.24],[-1.01,2.24],[-2.92,2.23],[-2.43,2.21],[-2.38,2.2],[-1.44,2.2],[-1.92,2.19],[-2.13,2.12],[-1.96,2.1],[-1.44,2.09],[-1.31,2.08],[-1.13,2.11],[-2.78,2.08],[-2.9,2.01],[-1.64,2],[-1.59,2.02],[-1.96,2],[-1.28,2.02],[-1.1,2.02],[-3.26,1.94],[-3.16,1.92],[-4.15,1.91],[-1.77,1.94],[-1.44,1.94],[-2.37,1.92],[-2.13,1.9],[-1.01,1.91],[-2.95,1.88],[-3.07,1.84],[-1.65,1.87],[-1.16,1.85],[-1.79,1.8],[-1.4,1.77],[-1.45,1.83],[-3.09,1.75],[-2.4,1.74],[-1.53,1.76],[-1.34,1.77],[-1.52,1.71],[-1.99,1.67],[-1.52,1.68],[-1.64,1.64],[-1.46,1.67],[-1.01,1.68],[-1.73,1.61],[-2.41,1.57],[-1.25,1.6],[-1.16,1.6],[-2.15,1.53],[-1.81,1.52],[-1.31,1.51],[-2.67,1.5],[-1.37,1.48],[-3.24,1.47],[-3.48,1.42],[-2.18,1.41],[-2,1.43],[-1.69,1.45],[-1.31,1.45],[-1.34,1.41],[-1.12,1.43],[-1.04,1.47],[-3.21,1.3],[-3.01,1.34],[-1.83,1.32],[-1.65,1.31],[-1.22,1.32],[-1.1,1.35],[-1.01,1.39]];
const crispUp=[[3.47,6.85],[1.1,6.18],[4.58,6.12],[6.72,5.96],[4.88,5.45],[3.97,5.15],[4.47,4.79],[7.64,4.17],[5.41,3.4],[4.09,3.37],[3.6,3.56],[4.58,2.81],[4.12,1.71],[3.85,2.09],[1.48,5.19],[1.71,5.1],[1.07,5.15],[1.05,5.02],[3.3,4.88],[2.3,4.86],[2.65,4.85],[3.1,4.8],[1.05,4.88],[1.02,4.83],[1.2,4.78],[1.35,4.78],[1.35,4.62],[1.6,4.8],[1.85,4.7],[2,4.7],[2.1,4.55],[2.2,4.55],[2.45,4.5],[2.6,4.42],[3.25,4.38],[3.08,4.42],[1.02,4.38],[1.07,4.28],[1.2,4.26],[1.4,4.22],[1.5,4.22],[1.8,4.27],[1.77,4.16],[1.05,4.1],[1.33,4.09],[1.5,4.1],[1.7,4.03],[1.8,4.04],[1.4,4],[1.32,3.97],[3.1,4.05],[2.9,3.88],[1.5,3.92],[1.6,3.88],[1.8,3.9],[1.1,3.78],[1.15,3.8],[1.7,3.72],[2.2,3.83],[1.03,3.68],[1.25,3.61],[1.4,3.63],[1.05,3.53],[1.2,3.5],[1.15,3.55],[2.2,3.57],[3.56,3.57],[2.5,3.45],[2.03,3.5],[1.03,3.42],[1.2,3.42],[1.3,3.38],[1.5,3.36],[1.55,3.4],[1.25,3.3],[1.67,3.3],[1.72,3.25],[2.5,3.35],[3.1,3.32],[1.05,3.21],[1.3,3.2],[1.5,3.22],[1.75,3.2],[1.85,3.21],[1.95,3.2],[2.05,3.23],[1.45,3.15],[1.65,3.1],[1.65,3.05],[1.65,3.08],[1.1,3.05],[2.65,3.13],[3.1,2.98],[3.1,2.9],[1.05,3],[1.05,2.9],[1.2,2.85],[1.35,2.8],[1.5,2.85],[1.5,2.78],[1.65,2.92],[1.72,2.78],[2.25,2.95],[2.3,2.83],[2.9,2.85],[3.1,2.78],[1.15,2.7],[1.3,2.72],[1.05,2.62],[1.4,2.58],[1.5,2.6],[1.62,2.55],[1.85,2.68],[1.92,2.65],[2.05,2.72],[1.72,2.55],[1.77,2.5],[2.3,2.58],[2.6,2.52],[3.2,2.6],[3.2,2.52],[1.1,2.52],[1.05,2.45],[1.2,2.42],[1.3,2.48],[1.4,2.47],[1.5,2.44],[1.67,2.42],[1.8,2.45],[1.92,2.43],[2.08,2.35],[2.3,2.38],[2.4,2.42],[2.5,2.4],[1.05,2.38],[1.03,2.32],[1.2,2.38],[1.35,2.3],[1.42,2.25],[1.55,2.22],[1.6,2.35],[1.75,2.3],[1.85,2.28],[2.25,2.28],[2.6,2.22],[1.1,2.15],[1.25,2.08],[1.4,2.14],[1.48,2.08],[1.6,2.07],[1.7,2.05],[2.1,2],[2.35,1.9],[3.1,2.02],[3.25,1.88],[1.02,2],[1.15,1.95],[1.3,1.98],[1.4,1.93],[1.5,1.9],[1.62,1.85],[2.2,1.75],[2.6,1.72],[1.05,1.78],[1.05,1.72],[1.25,1.7],[1.3,1.65],[1.3,1.55],[1.42,1.55],[1.55,1.62],[1.8,1.55],[1.95,1.6],[2,1.55],[1.1,1.5],[1.22,1.45],[1.4,1.42],[1.9,1.48],[1.65,1.42],[1.75,1.38],[2.05,1.38],[2,1.33],[1.05,1.38],[1.02,1.32],[1.15,1.32],[1.25,1.35],[1.35,1.33],[1.6,1.4],[1.95,1.5],[2.1,1.5],[1.45,1.32]];
const crispNS=[[.35,5.6],[.6,5.25],[.85,5.55],[.6,5.15],[-.45,5.1],[-.8,5.02],[.35,5],[.55,4.87],[.85,4.85],[.95,4.75],[-.9,4.9],[-.86,4.63],[.83,4.6],[.85,4.45],[.83,4.43],[-.95,4.55],[-.7,4.4],[.55,4.3],[.7,4.3],[.8,4.35],[.2,4.25],[-.5,4.2],[-.47,4.16],[-.6,4.1],[.5,4.07],[.7,4.12],[.8,4.02],[.85,4.05],[-.65,4.05],[-.3,3.9],[-.55,3.83],[.65,3.9],[.7,3.85],[.7,3.75],[.85,3.95],[.7,3.8],[-.6,3.8],[-.85,3.75],[-.7,3.7],[-.42,3.75],[-.4,3.68],[.3,3.65],[.45,3.65],[.6,3.6],[.75,3.55],[.9,3.6],[.75,3.48],[.85,3.38],[.95,3.5],[-.9,3.55],[-.8,3.55],[-.6,3.58],[-.5,3.55],[-.85,3.38],[-.4,3.5],[.35,3.42],[.55,3.4],[.7,3.38],[.9,3.4],[.9,3.3],[.2,3.3],[.3,3.25],[.45,3.28],[.6,3.3],[.7,3.2],[.83,3.22],[.95,3.25],[-.55,3.3],[-.5,3.28],[-.3,3.28],[-.95,3.22],[-.85,3.18],[-.75,3.15],[-.6,3.13],[-.47,3.15],[.05,3.25],[.15,3.18],[.32,3.1],[.5,3.1],[.72,3.1],[.85,3],[.95,3.05],
[-.95,3.08],[-.82,3.05],[-.68,3.02],[-.6,2.98],[-.5,3],[-.42,2.96],[-.35,2.93],[-.9,2.95],[-.78,2.92],[-.65,2.9],[-.5,2.9],[-.3,2.85],[.22,2.85],[.4,2.9],[.5,2.82],[.62,2.95],[.78,2.88],[.92,2.9],[.15,2.75],[.28,2.75],[.45,2.72],[.6,2.72],[.72,2.78],[.88,2.7],[.96,2.75],[-.95,2.82],[-.8,2.78],[-.65,2.76],[-.5,2.75],[-.38,2.72],[-.9,2.65],[-.75,2.68],[-.6,2.62],[-.45,2.6],[-.32,2.65],[.1,2.6],[.28,2.6],[.42,2.58],[.55,2.62],[.68,2.6],[.82,2.55],[.95,2.62],
[-.95,2.52],[-.82,2.55],[-.68,2.5],[-.55,2.48],[-.42,2.45],[.2,2.45],[.35,2.48],[.48,2.44],[.6,2.5],[.72,2.45],[.88,2.42],[.96,2.5],[-.9,2.42],[-.75,2.38],[-.6,2.35],[-.45,2.32],[-.3,2.35],[.15,2.35],[.3,2.33],[.42,2.32],[.55,2.36],[.68,2.34],[.82,2.32],[.95,2.34],[-.95,2.28],[-.8,2.25],[-.65,2.22],[-.5,2.2],[.1,2.22],[.25,2.2],[.38,2.18],[.5,2.24],[.62,2.2],[.75,2.22],[.88,2.2],
[-.9,2.15],[-.75,2.12],[-.62,2.1],[-.45,2.08],[.15,2.08],[.28,2.06],[.42,2.1],[.55,2.05],[.68,2.08],[.82,2.06],[.95,2.1],[-.95,2],[-.8,1.98],[-.65,1.95],[-.48,1.93],[-.4,2],[.2,1.94],[.35,1.96],[.48,1.92],[.6,1.95],[.72,1.92],[.88,1.94],[-.9,1.88],[-.72,1.85],[-.55,1.82],[.1,1.82],[.25,1.84],[.4,1.8],[.55,1.85],[.68,1.82],[.82,1.8],[.95,1.85],
[-.95,1.75],[-.8,1.72],[-.62,1.7],[-.45,1.68],[-.3,1.65],[.05,1.68],[.2,1.7],[.35,1.68],[.5,1.7],[.62,1.66],[.78,1.68],[.92,1.7],[-.9,1.6],[-.72,1.58],[-.55,1.55],[-.35,1.52],[.12,1.58],[.28,1.56],[.42,1.58],[.58,1.54],[.72,1.55],[.88,1.56],[-.96,1.5],[-.82,1.46],[-.65,1.44],[-.45,1.42],[-.22,1.38],[.05,1.44],[.2,1.45],[.35,1.42],[.5,1.44],[.65,1.4],[.8,1.42],[.95,1.44],[-.9,1.36],[-.72,1.34],[-.5,1.33],[-.3,1.32],[.1,1.34],[.25,1.33],[.42,1.33],[.6,1.32],[.78,1.33],[.92,1.32],
[-.93,1.25],[-.75,1.22],[-.6,1.24],[-.46,1.18],[-.32,1.2],[-.2,1.15],[.05,1.24],[.15,1.18],[.28,1.22],[.42,1.2],[.58,1.22],[.75,1.2],[.92,1.22],[-.85,1.12],[-.68,1.1],[-.55,1.1],[-.42,1.06],[-.3,1.08],[-.18,1.04],[.08,1.1],[.2,1.08],[.32,1.1],[.46,1.06],[.62,1.1],[.8,1.06],[.95,1.12],[-.95,1],[-.72,.98],[-.55,.98],[-.44,.96],[-.32,.98],[-.2,.94],[-.1,.92],[.06,.98],[.18,.95],[.3,.98],[.42,.94],[.56,.98],[.72,.96],[.9,1],
[-.82,.88],[-.6,.86],[-.46,.85],[-.35,.86],[-.24,.84],[-.14,.82],[.02,.84],[.12,.86],[.24,.84],[.36,.86],[.5,.84],[.68,.82],[.85,.85],[-.7,.74],[-.52,.74],[-.4,.76],[-.3,.74],[-.2,.72],[-.1,.72],[0,.7],[.1,.74],[.2,.72],[.3,.74],[.44,.72],[.6,.74],[.82,.7],[-.92,.72],[-.62,.62],[-.46,.62],[-.35,.64],[-.26,.62],[-.17,.6],[-.08,.6],[.02,.6],[.1,.62],[.2,.6],[.3,.62],[.42,.6],[.58,.6],[.78,.58],
[-.7,.52],[-.5,.5],[-.38,.52],[-.28,.5],[-.2,.5],[-.12,.48],[-.04,.48],[.04,.5],[.12,.48],[.2,.5],[.3,.5],[.46,.48],[.68,.46],[-.42,.4],[-.3,.42],[-.22,.4],[-.14,.38],[-.06,.38],[.02,.38],[.1,.4],[.18,.38],[.28,.4],[.4,.38],[.6,.36],[-.85,.36],[-.55,.34],[-.34,.3],[-.25,.3],[-.17,.3],[-.1,.28],[-.03,.28],[.04,.28],[.12,.3],[.2,.28],[.32,.3],[.5,.28],[.8,.28],
[-.7,.22],[-.4,.22],[-.26,.2],[-.18,.22],[-.11,.2],[-.04,.2],[.03,.2],[.1,.2],[.17,.22],[.26,.2],[.4,.2],[.62,.18],[-.85,.14],[-.5,.14],[-.3,.12],[-.2,.14],[-.13,.12],[-.06,.12],[0,.12],[.07,.14],[.14,.12],[.22,.12],[.34,.14],[.55,.1],[.85,.1],[-.7,.06],[-.4,.05],[-.22,.06],[-.13,.05],[-.05,.05],[.02,.06],[.1,.05],[.2,.05],[.4,.05],[.7,.04],[-.55,.02],[-.15,.02],[-.06,.01],[0,.02],[.07,.02],[.15,.02],[.5,.02],[.85,.03],
[-1.05,1.26],[-1.3,1.28],[-1.5,1.26],[-1.9,1.28],[-2.3,1.26],[-2.2,1.2],[-2.35,1.15],[-1.95,1.18],[-1.75,1.15],[-1.55,1.18],[-1.3,1.18],[-1.1,1.2],[-2.1,1.1],[-1.85,1.05],[-1.6,1.08],[-1.25,1.08],[-1.05,1.1],[-1.45,1],[-1.2,.98],[-2.05,.98],[-3.2,1.02],[-2.85,.98],[-1.6,.88],[-1.3,.88],[-1.05,.92],[-1.45,.78],[-1.2,.76],[-2.35,.8],[-3.75,.72],[-3.3,.72],[-1.55,.68],[-1.1,.66],[-1.7,.58],[-1.4,.55],[-1.05,.55],[-3.2,.6],[-5.5,.55],[-1.5,.42],[-1.25,.4],[-1.75,.32],[-3.4,.34],[-3.05,.38],[-4.05,.28],[-2.15,.28],[-1.2,.22],[-1.55,.15],[-2.05,.15],[-1.3,.1],[-2.55,.15],[-3.45,.16],[-4.85,.08],[-4,.03],[-3.75,.03],[-2.65,.02],[-2.25,.1],[-1.9,.08],[-1.7,.03],[-1.1,.07],[-7.45,1],[-5.2,.98],
[1.05,1.26],[1.2,1.22],[1.4,1.24],[1.65,1.26],[2,1.24],[2.55,1.27],[3,1],[1.1,1.12],[1.3,1.1],[1.55,1.14],[1.8,1.1],[2.1,1.04],[2.6,1.08],[1.15,1],[1.45,.98],[1.75,.95],[2.05,1],[2.4,.98],[3.8,.82],[1.05,.88],[1.3,.85],[1.55,.82],[1.1,.72],[1.35,.7],[1.6,.72],[2.8,.75],[3.4,.78],[4.8,.85],[1.05,.58],[1.25,.55],[1.5,.52],[1.05,.42],[1.25,.36],[1.6,.4],[1.5,.3],[2.2,.32],[2.05,.35],[2.4,.3],[3.05,.26],[3.5,.12],[3.4,.2],[3.55,.17],[7,.25],[1.9,.12],[1.2,.2],[1.1,.05],[1.6,.03],[1.6,.1],[2.1,.02],[2.65,.02],[3.05,.08],[3.4,.08],[1.3,.12],[2.75,.12],
[-.38,1.3],[-.25,1.25],[-.36,1.12],[-.25,.98],[-.38,.92],[-.28,.82],[-.19,.86],[-.32,.68],[-.22,.66],[-.13,.66],[-.27,.55],[-.16,.55],[-.08,.54],[-.2,.44],[-.1,.43],[-.02,.43],[-.15,.34],[-.07,.33],[-.01,.33],[-.12,.24],[-.05,.24],[.01,.25],[-.08,.17],[-.02,.16],[.04,.16],[-.1,.08],[-.02,.08],[.05,.09],[.12,.08],[.08,.16],[.14,.17],[.08,.25],[.14,.25],[.2,.26],[.08,.33],[.16,.34],[.24,.34],[.14,.44],[.24,.44],[.34,.44],[.16,.55],[.25,.56],[.35,.55],[.2,.67],[.3,.67],[.4,.66],[.26,.79],[.36,.78],[.46,.8],[.12,.8],[.3,.92],[.38,.9],[.5,.92],[.25,1.03],[.38,1.03],[.5,1.14],[.35,1.17],[.22,1.28],[.36,1.28],[.5,1.28],
[.45,2.95],[.6,2.85],[.75,2.68],[.55,2.75],[.38,2.68],[.5,2.55],[.62,2.42],[.8,2.42],[.4,2.4],[.52,2.3],[.72,2.28],[.33,2.12],[.46,2.16],[.6,2.12],[.78,2.15],[.3,2.02],[.42,2],[.55,1.98],[.66,1.9],[.8,1.9],[.33,1.88],[.48,1.78],[.62,1.76],[.75,1.76],[.3,1.62],[.5,1.62],[.65,1.62],[.8,1.62],[.22,1.5],[.4,1.5],[.55,1.48],[.72,1.48],[-.7,2.85],[-.58,2.7],[-.72,2.56],[-.55,2.55],[-.72,2.3],[-.55,2.28],[-.85,2.05],[-.55,2.02],[-.72,1.95],[-.82,1.8],[-.62,1.78],[-.42,1.6],[-.65,1.5],[-.35,1.42]];

// ---------- helpers ----------
const NS='http://www.w3.org/2000/svg';
function mk(tag,attrs,parent){
  const el=document.createElementNS(NS,tag);
  for(const k in attrs){el.setAttribute(k,attrs[k]);}
  parent.appendChild(el);
  return el;
}
function heatColor(v){
  const mix=(a,b,t)=>Math.round(a+(b-a)*t);
  if(v>=0){
    const t=Math.min(1,v/1.9);
    return 'rgb('+mix(255,235,t)+','+mix(255,230,t)+','+mix(255,0,t)+')';
  }
  const t=Math.min(1,-v/2.4);
  return 'rgb('+mix(255,106,t)+','+mix(255,0,t)+','+mix(255,184,t)+')';
}
// ---------- heatmap ----------
(function(){
  const g=document.getElementById('heat');
  const x0=2571,x1=4033,colW=(x1-x0)/heatVev.length;
  const rows=[[heatVev,560,811,'heatmap-row-e-vev'],[heatCrisp,811,1096,'heatmap-row-e-crisp-ev']];
  rows.forEach(function(r){
    r[0].forEach(function(v,i){
      const el=mk('rect',{x:(x0+i*colW).toFixed(1),y:r[1],width:(colW+.6).toFixed(1),height:r[2]-r[1],fill:heatColor(v)},g);
      
      
    });
  });
  const spot=mk('rect',{x:3481,y:952,width:7,height:21,fill:'#ffe000'},g);
  
  
})();
// ---------- dendrogram ----------
(function(){
  const g=document.getElementById('dendro');
  const lx=function(l){return 2571+l*10;};
  const hy=function(h){return 546-h;};
  const massScale=1.35;
  let d='M'+lx(0)+' '+hy(0);
  const step=146/dendroMass.length;
  dendroMass.forEach(function(h,i){d+=' L'+lx((i+.5)*step).toFixed(1)+' '+hy(h*massScale).toFixed(1);});
  d+=' L4029 546 Z';
  const mass=mk('path',{d:d,fill:'#000',stroke:'#000','stroke-width':3},g);
  
  
  const base=mk('rect',{x:2571,y:hy(12),width:1458,height:12,fill:'#000'},g);
  
  
  dendroMerges.forEach(function(m){
    const p=mk('path',{d:'M'+lx(m[0])+' '+hy(m[3])+' V'+hy(m[2])+' H'+lx(m[1])+' V'+hy(m[4]),fill:'none',stroke:'#000','stroke-width':6},g);
    
    
  });
})();
// ---------- volcano ----------
function drawVolcano(g,cfg){
  const X=cfg.x,Y=cfg.y;
  const addPts=function(arr,color,name,r){
    const sub=mk('g',{fill:color},g);
    
    
    arr.forEach(function(p){
      const c=mk('circle',{cx:X(p[0]).toFixed(1),cy:Y(p[1]).toFixed(1),r:r},sub);
      
      
    });
  };
  addPts(cfg.ns,'#bebebe','not-significant-points',5.4);
  addPts(cfg.down,'#e040fb','down-regulated-points',4.4);
  addPts(cfg.up,'#daa900','up-regulated-points',4.4);
  const line=function(x1,y1,x2,y2,w,name){
    const l=mk('line',{x1:x1,y1:y1,x2:x2,y2:y2,stroke:'#000','stroke-width':w},g);
    
    
  };
  line(X(cfg.th[0]),cfg.top,X(cfg.th[0]),cfg.bottom,3.5,'threshold-line-low');
  line(X(cfg.th[1]),cfg.top,X(cfg.th[1]),cfg.bottom,3.5,'threshold-line-high');
  line(cfg.left,Y(cfg.th[2]),cfg.right,Y(cfg.th[2]),3,'significance-line');
  line(cfg.left,cfg.top,cfg.left,cfg.bottom+2,4,'y-axis');
  line(cfg.left,cfg.bottom,cfg.right,cfg.bottom,4,'x-axis');
  cfg.yt.forEach(function(v){
    line(cfg.left-8,Y(v),cfg.left,Y(v),3,'y-tick');
    const t=mk('text',{x:cfg.left-20,y:Y(v)+cfg.yoff,'text-anchor':'end','font-size':cfg.fs},g);
    
    
    t.textContent=String(v);
  });
  cfg.xt.forEach(function(v){
    line(X(v),cfg.bottom,X(v),cfg.bottom+8,3,'x-tick');
    const t=mk('text',{x:X(v)-(v<0?10:0),y:3301,'text-anchor':'middle','font-size':84},g);
    
    
    t.textContent=(v<0?'\u2212':'')+Math.abs(v);
  });
}
drawVolcano(document.getElementById('volcC'),{
  x:function(v){return 1069+92*v;},y:function(v){return 3165-166.5*v;},
  ns:vevNS,down:vevDown,up:vevUp,th:vevThresholds,xt:vevXTicks,yt:vevYTicks,
  left:191,right:1843,top:1820,bottom:3230,yoff:24,fs:81
});
drawVolcano(document.getElementById('volcD'),{
  x:function(v){return 3419.5+84.4*v;},y:function(v){return 3165-149.2*v;},
  ns:crispNS,down:crispDown,up:crispUp,th:crispThresholds,xt:crispXTicks,yt:crispYTicks,
  left:2501.5,right:4137,top:1831,bottom:3230,yoff:29,fs:85
});
</script>
</body>
</html>
